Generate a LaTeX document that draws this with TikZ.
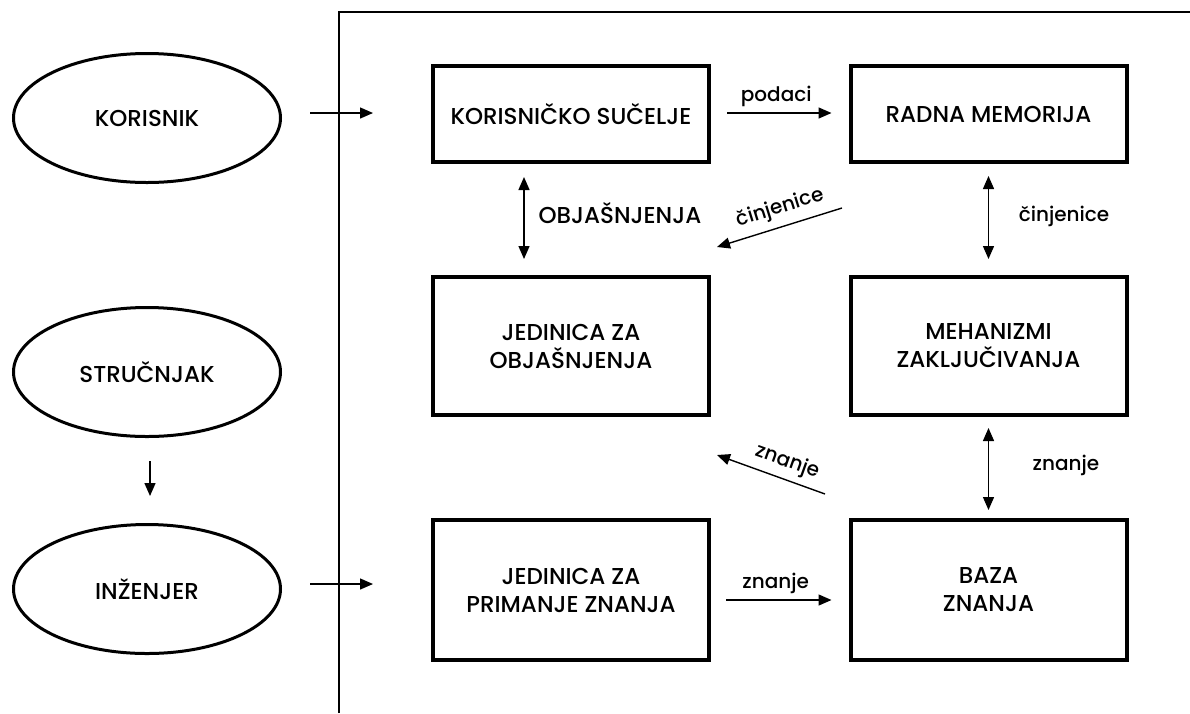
\documentclass[tikz,border=0pt]{standalone}
\usepackage{fontspec}
\setmainfont{Poppins Medium}
\usetikzlibrary{shapes.geometric,arrows.meta,calc}
\begin{document}
\begin{tikzpicture}[x=1pt,y=-1pt,
  lbl/.style={font=\fontsize{23}{28}\selectfont},
  small/.style={font=\fontsize{20}{24}\selectfont},
  boxnode/.style={draw,line width=4pt,minimum width=276pt,align=center,lbl,inner sep=0pt},
  ell/.style={draw,ellipse,line width=3pt,minimum width=267pt,minimum height=129pt,lbl,inner sep=0pt},
  arr/.style={line width=1.4pt,-{Triangle[length=13pt,width=11pt]}},
  darr/.style={line width=1.4pt,{Triangle[length=13pt,width=11pt]}-{Triangle[length=13pt,width=11pt]}},
  frame/.style={line width=1.3pt}
]
\useasboundingbox (0,0) rectangle (1190,713);
% frame
\coordinate (f1) at (339,713);
\coordinate (f2) at (339,12);
\coordinate (f3) at (1190,12);
\draw[frame] (f1) -- (f2) -- (f3);

% ellipses
\node[ell] (kor) at (147,118) {KORISNIK};
\node[ell] (str) at (147,372) {STRUČNJAK};
\node[ell] (inz) at (147,589) {INŽENJER};

% boxes
\node[boxnode,minimum height=96pt] (ks) at (571,114) {KORISNIČKO SUČELJE};
\node[boxnode,minimum height=96pt] (rm) at (988.5,114) {RADNA MEMORIJA};
\node[boxnode,minimum height=138pt] (jo) at (571,346) {JEDINICA ZA\\OBJAŠNJENJA};
\node[boxnode,minimum height=138pt] (mz) at (988.5,346) {MEHANIZMI\\ZAKLJUČIVANJA};
\node[boxnode,minimum height=140pt] (jp) at (571,590) {JEDINICA ZA\\PRIMANJE ZNANJA};
\node[boxnode,minimum height=140pt] (bz) at (988.5,590) {BAZA\\ZNANJA};

% entry arrows
\draw[arr] ($(kor.east)+(28,-5)$) -- ($(ks.west)+(-58,-1)$);
\draw[arr] ($(inz.east)+(28,-5)$) -- ($(jp.west)+(-58,-6)$);
\draw[arr] ($(str.south)+(3,23)$) -- ($(inz.north)+(3,-27)$);

% horizontal arrows
\draw[arr] ($(ks.east)+(16,-1)$) -- node[small,above=2pt,xshift=-3pt]{podaci} ($(rm.west)+(-17,-1)$);
\draw[arr] ($(jp.east)+(15,10)$) -- node[small,above=2pt,xshift=-3pt]{znanje} ($(bz.west)+(-17,10)$);

% vertical double arrows
\draw[darr] ($(ks.south)+(-47,13)$) -- ($(jo.north)+(-47,-16)$);
\draw[darr] ($(rm.south)+(0,12)$) -- ($(mz.north)+(0,-16)$);
\draw[darr] ($(mz.south)+(0,11)$) -- ($(bz.north)+(0,-8)$);

\node[lbl] (lobj) at (620,213) {OBJAŠNJENJA};
\node[small] (lcin) at (1064,216) {činjenice};
\node[small] (lzn) at (1066,465) {znanje};

% diagonal arrows
\coordinate (c1) at (842,208);
\coordinate (c2) at (717,247);
\draw[arr] (c1) -- node[small,sloped,above=4pt,pos=0.45]{činjenice} (c2);
\coordinate (z1) at (825,494);
\coordinate (z2) at (717,455);
\draw[arr] (z1) -- node[small,sloped,above=3pt,pos=0.4]{znanje} (z2);
\end{tikzpicture}
\end{document}
